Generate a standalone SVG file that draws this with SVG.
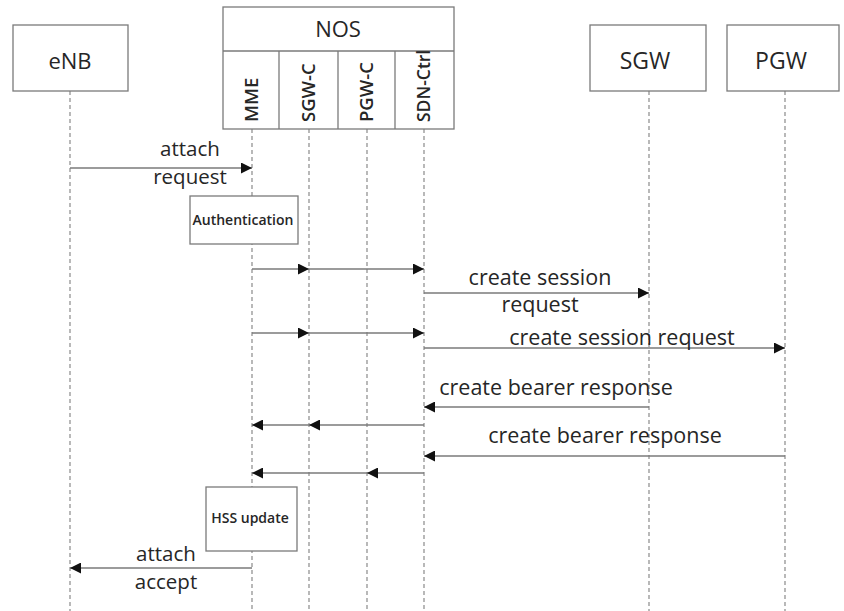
<svg xmlns="http://www.w3.org/2000/svg" width="844" height="611" viewBox="0 0 844 611">
<style>
.box{fill:#fff;stroke:#7a7a7a;stroke-width:1.3}
.life{stroke:#8a8a8a;stroke-width:1.2;stroke-dasharray:4,3;fill:none}
.msg{stroke:#7a7a7a;stroke-width:1.3;fill:none}
.t{font-family:"Open Sans","Noto Sans",sans-serif;fill:#262626}
.big{font-size:22px;text-anchor:middle}
.lbl{font-size:21.5px;text-anchor:middle}
.two{font-size:20.5px;text-anchor:middle}
.vert{font-size:18.5px;font-weight:600}
.small{font-size:14px;text-anchor:middle;font-weight:600}
</style>
<defs>
<marker id="ah" viewBox="0 0 11 11" refX="11" refY="5.5" markerWidth="11" markerHeight="11" markerUnits="userSpaceOnUse" orient="auto">
<path d="M0,0 L11,5.5 L0,11 z" fill="#111"/>
</marker>
<marker id="mid" viewBox="0 0 11 11" refX="11" refY="5.5" markerWidth="11" markerHeight="11" markerUnits="userSpaceOnUse" orient="auto">
<path d="M0,0 L11,5.5 L0,11 z" fill="#111"/>
</marker>
</defs>
<g id="lifelines">
<line class="life" x1="70" y1="91" x2="70" y2="611"/>
<line class="life" x1="252" y1="129" x2="252" y2="611"/>
<line class="life" x1="309" y1="129" x2="309" y2="611"/>
<line class="life" x1="367" y1="129" x2="367" y2="611"/>
<line class="life" x1="424" y1="129" x2="424" y2="611"/>
<line class="life" x1="649" y1="91" x2="649" y2="611"/>
<line class="life" x1="785" y1="91" x2="785" y2="611"/>
</g>
<g id="eNB">
<rect class="box" x="13" y="25" width="115" height="66"/>
<text class="t big" x="70" y="69">eNB</text>
</g>
<g id="NOS">
<rect class="box" x="223" y="7" width="231" height="122"/>
<line class="box" x1="223" y1="51" x2="454" y2="51"/>
<line class="box" x1="279" y1="51" x2="279" y2="129"/>
<line class="box" x1="338" y1="51" x2="338" y2="129"/>
<line class="box" x1="395" y1="51" x2="395" y2="129"/>
<text class="t big" x="338" y="37">NOS</text>
</g>
<g id="MME"><text class="t vert" transform="translate(258,122) rotate(-90)">MME</text></g>
<g id="SGW-C"><text class="t vert" transform="translate(315,122) rotate(-90)">SGW-C</text></g>
<g id="PGW-C"><text class="t vert" transform="translate(373,122) rotate(-90)">PGW-C</text></g>
<g id="SDN-Ctrl"><text class="t vert" transform="translate(430,122) rotate(-90)" style="font-size:17.5px">SDN-Ctrl</text></g>
<g id="SGW">
<rect class="box" x="590" y="25" width="116" height="66"/>
<text class="t big" x="645" y="69" style="font-size:23px">SGW</text>
</g>
<g id="PGW">
<rect class="box" x="727" y="25" width="112" height="66"/>
<text class="t big" x="781" y="69" style="font-size:23px">PGW</text>
</g>
<g id="Authentication">
<rect class="box" x="190" y="196" width="108" height="48"/>
<text class="t small" x="243" y="225">Authentication</text>
</g>
<g id="HSS-update">
<rect class="box" x="206" y="487" width="91" height="64"/>
<text class="t small" x="250" y="523">HSS update</text>
</g>
<g id="connectors">
<line class="msg" x1="70" y1="168" x2="252" y2="168" marker-end="url(#ah)"/>
<text class="t two" x="190" y="156">attach</text>
<text class="t two" x="190" y="184">request</text>
<polyline class="msg" points="252,269 309,269 424,269" marker-mid="url(#mid)" marker-end="url(#ah)"/>
<line class="msg" x1="424" y1="293" x2="649" y2="293" marker-end="url(#ah)"/>
<text class="t lbl" x="540" y="285">create session</text>
<text class="t lbl" x="540" y="312">request</text>
<polyline class="msg" points="252,333 309,333 424,333" marker-mid="url(#mid)" marker-end="url(#ah)"/>
<line class="msg" x1="424" y1="348" x2="785" y2="348" marker-end="url(#ah)"/>
<text class="t lbl" x="622" y="345">create session request</text>
<line class="msg" x1="649" y1="407" x2="424" y2="407" marker-end="url(#ah)"/>
<text class="t lbl" x="556" y="395">create bearer response</text>
<polyline class="msg" points="424,425 309,425 252,425" marker-mid="url(#mid)" marker-end="url(#ah)"/>
<line class="msg" x1="785" y1="456" x2="424" y2="456" marker-end="url(#ah)"/>
<text class="t lbl" x="605" y="443">create bearer response</text>
<polyline class="msg" points="424,473 367,473 252,473" marker-mid="url(#mid)" marker-end="url(#ah)"/>
<line class="msg" x1="252" y1="568" x2="70" y2="568" marker-end="url(#ah)"/>
<text class="t two" x="166" y="561">attach</text>
<text class="t two" x="166" y="589">accept</text>
</g>
</svg>
